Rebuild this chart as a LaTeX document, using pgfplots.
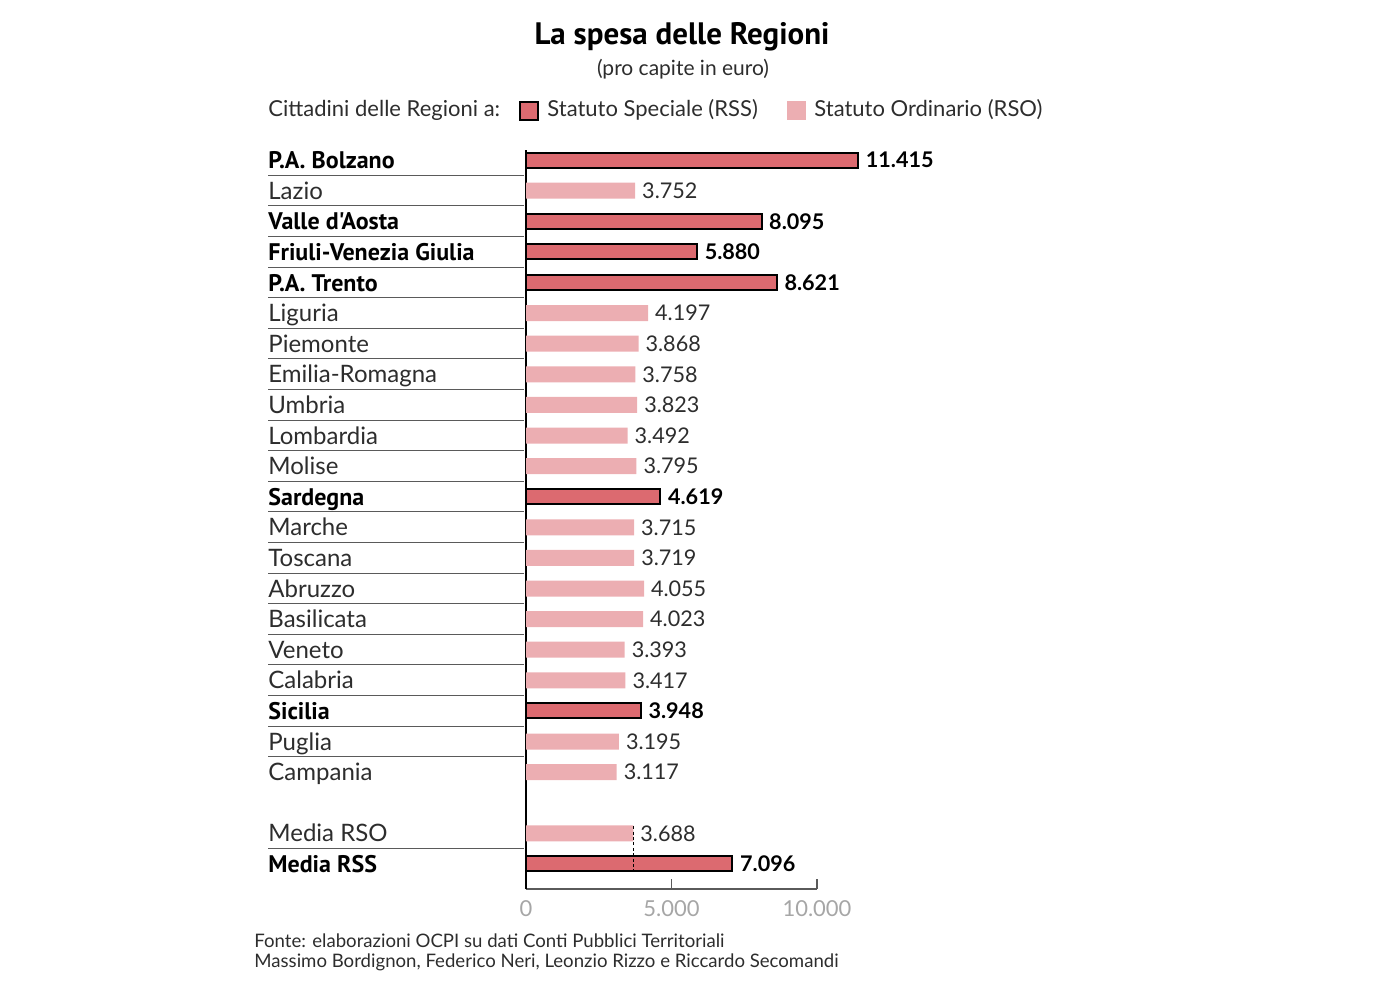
\documentclass[border=0pt]{standalone}
\usepackage{fontspec}
\setmainfont{Lato}
\newfontfamily\condf{PT Sans}
\usepackage{pgfplots}
\pgfplotsset{compat=1.18}

\definecolor{rss}{RGB}{220,106,112}
\definecolor{rso}{RGB}{236,174,178}
\definecolor{txt}{RGB}{45,45,45}
\definecolor{sep}{RGB}{90,90,90}

\newcommand\B[1]{{\color{black}\condf\bfseries #1}}

\begin{document}
\begin{tikzpicture}
\begin{scope}[x=0.5pt,y=-0.5pt]
\path[use as bounding box] (0,0) rectangle (1378,984);

% title, subtitle, legend
\node[font=\condf\bfseries\fontsize{15.5}{18}\selectfont] at (682,37) {La spesa delle Regioni};
\node[font=\fontsize{10.5}{13}\selectfont, text=txt] at (683,69) {(pro capite in euro)};
\node[anchor=west, inner sep=0pt, font=\fontsize{11}{13}\selectfont, text=txt] at (268,110) {Cittadini delle Regioni a:};
\draw[fill=rss, line width=1pt] (520,102) rectangle (538,120);
\node[anchor=west, inner sep=0pt, font=\fontsize{11}{13}\selectfont, text=txt] at (547,110) {Statuto Speciale (RSS)};
\fill[rso] (787,101) rectangle (806,120);
\node[anchor=west, inner sep=0pt, font=\fontsize{11}{13}\selectfont, text=txt] at (814,110) {Statuto Ordinario (RSO)};

% row separators
\foreach \k in {0,...,19}
  \draw[sep, line width=0.5pt] (268,{160+30.6*(\k+0.5)}) -- (524,{160+30.6*(\k+0.5)});
\draw[sep, line width=0.5pt] (268,{160+30.6*22.5}) -- (524,{160+30.6*22.5});

% source
\node[anchor=west, inner sep=0pt, font=\fontsize{9.3}{11}\selectfont, text=txt] at (254,941) {Fonte: elaborazioni OCPI su dati Conti Pubblici Territoriali};
\node[anchor=west, inner sep=0pt, font=\fontsize{9.3}{11}\selectfont, text=txt] at (254,962) {Massimo Bordignon, Federico Neri, Leonzio Rizzo e Riccardo Secomandi};
\end{scope}

\begin{axis}[
  at={(263pt,-444.5pt)}, anchor=south west,
  scale only axis, width=145.5pt, height=369.5pt,
  xmin=0, xmax=10000, ymin=-0.82, ymax=23.33,
  clip=false,
  axis x line=bottom, axis y line=left,
  axis line style={-},
  x axis line style={sep, line width=0.6pt},
  y axis line style={black, line width=1pt},
  xtick={0,5000,10000},
  scaled x ticks=false,
  tick align=inside,
  x tick style={sep, line width=0.6pt},
  major tick length=5pt,
  xticklabel style={text=black!35, font=\fontsize{11}{13}\selectfont, yshift=-2pt},
  /pgf/number format/1000 sep={.},
  /pgf/number format/assume math mode=true,
  ytick={0,1,3,4,5,6,7,8,9,10,11,12,13,14,15,16,17,18,19,20,21,22,23},
  yticklabels={\B{Media RSS}, Media RSO, Campania, Puglia, \B{Sicilia}, Calabria,
    Veneto, Basilicata, Abruzzo, Toscana, Marche, \B{Sardegna}, Molise, Lombardia,
    Umbria, Emilia-Romagna, Piemonte, Liguria, \B{P.A. Trento},
    \B{Friuli-Venezia Giulia}, \B{Valle d'Aosta}, Lazio, \B{P.A. Bolzano}},
  y tick style={draw=none},
  yticklabel style={anchor=base west, xshift=-124pt, yshift=-4.3pt, inner sep=0pt,
    font=\fontsize{12}{14}\selectfont, text=txt},
  xbar, bar shift=0pt,
  nodes near coords,
  nodes near coords style={anchor=west, font=\fontsize{10.8}{13}\selectfont},
]
% Statuto Ordinario
\addplot[fill=rso, draw=none, bar width=8pt, nodes near coords style={text=txt}]
  coordinates {(3752,22) (4197,18) (3868,17) (3758,16) (3823,15) (3492,14)
    (3795,13) (3715,11) (3719,10) (4055,9) (4023,8) (3393,7) (3417,6)
    (3195,4) (3117,3) (3688,1)};
% Statuto Speciale
\addplot[fill=rss, draw=black, line width=1pt, bar width=7.5pt,
  nodes near coords style={text=black, font=\bfseries\fontsize{10.8}{13}\selectfont}]
  coordinates {(11415,23) (8095,21) (5880,20) (8621,19) (4619,12) (3948,5) (7096,0)};
% media RSO reference
\draw[black, line width=0.7pt, dash pattern=on 1.5pt off 1.2pt] (axis cs:3688,1.23) -- (axis cs:3688,-0.29);
\end{axis}
\end{tikzpicture}
\end{document}
